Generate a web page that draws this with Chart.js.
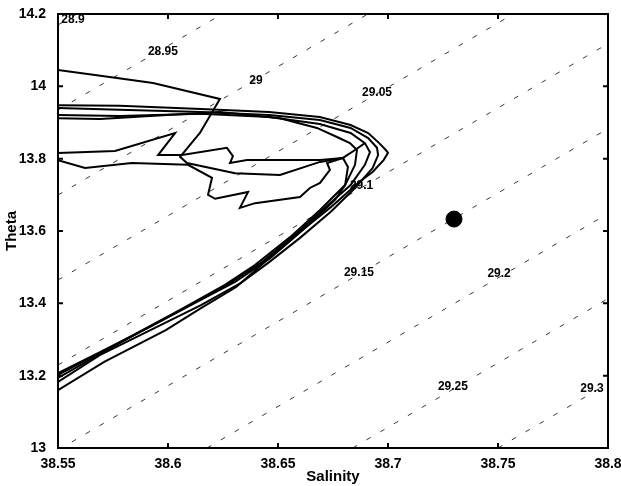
<!DOCTYPE html>
<html>
<head>
<meta charset="utf-8">
<script src="https://cdn.jsdelivr.net/npm/chart.js@4/dist/chart.umd.min.js"></script>
<style>
  html, body { margin: 0; padding: 0; background: #fff; }
</style>
</head>
<body>
<canvas id="tsPlot" width="621" height="486"></canvas>
<script>
// axis ticks
const xTicks = [38.55, 38.6, 38.65, 38.7, 38.75, 38.8];
const yTicks = [13, 13.2, 13.4, 13.6, 13.8, 14, 14.2];

// sigma-theta contours, end points
const contourLevels = ["28.9", "28.95", "29", "29.05", "29.1", "29.15", "29.2", "29.25", "29.3"];
const contourS0 = [38.55, 38.55, 38.55, 38.55, 38.55, 38.55, 38.6177, 38.6839, 38.75];
const contourT0 = [14.1696, 13.9346, 13.6995, 13.4645, 13.2295, 12.9945, 13.0, 13.0, 13.0];
const contourS1 = [38.5586, 38.6247, 38.6909, 38.757, 38.8, 38.8, 38.8, 38.8, 38.8];
const contourT1 = [14.2, 14.2, 14.2, 14.2, 14.118, 13.883, 13.648, 13.413, 13.178];
const contourLabelS = [38.5568, 38.5977, 38.64, 38.695, 38.688, 38.6868, 38.7505, 38.7295, 38.7927];
const contourLabelT = [14.1834, 14.095, 14.015, 13.982, 13.724, 13.484, 13.481, 13.169, 13.163];

// T-S traces
const traceA_S = [38.550, 38.578, 38.615, 38.646, 38.669, 38.683, 38.691, 38.696, 38.699, 38.700, 38.698, 38.693, 38.687, 38.674, 38.660, 38.644, 38.631, 38.615, 38.599, 38.571, 38.550];
const traceA_T = [13.948, 13.946, 13.937, 13.929, 13.915, 13.893, 13.871, 13.843, 13.824, 13.816, 13.796, 13.763, 13.736, 13.666, 13.597, 13.514, 13.445, 13.387, 13.326, 13.238, 13.160];

const traceB_S = [38.550, 38.578, 38.615, 38.646, 38.669, 38.683, 38.691, 38.695, 38.6955, 38.693, 38.685, 38.674, 38.660, 38.646, 38.633, 38.615, 38.592, 38.569, 38.550];
const traceB_T = [13.940, 13.935, 13.929, 13.921, 13.907, 13.885, 13.857, 13.830, 13.810, 13.774, 13.719, 13.653, 13.581, 13.514, 13.456, 13.395, 13.326, 13.257, 13.183];

const traceC_S = [38.550, 38.578, 38.615, 38.646, 38.669, 38.683, 38.6895, 38.6918, 38.6895, 38.683, 38.6714, 38.6577, 38.6427, 38.6282, 38.610, 38.5873, 38.5668, 38.550];
const traceC_T = [13.921, 13.918, 13.924, 13.915, 13.896, 13.871, 13.843, 13.818, 13.783, 13.727, 13.664, 13.589, 13.514, 13.456, 13.395, 13.321, 13.252, 13.194];

const traceD_S = [38.550, 38.5691, 38.5918, 38.6236, 38.6509, 38.6677, 38.6768, 38.6827, 38.6859, 38.685, 38.6805, 38.6691, 38.6555, 38.6395, 38.6259, 38.6055, 38.5827, 38.5646, 38.550];
const traceD_T = [13.912, 13.910, 13.918, 13.929, 13.912, 13.885, 13.860, 13.843, 13.824, 13.783, 13.727, 13.658, 13.583, 13.506, 13.451, 13.382, 13.307, 13.249, 13.202];

const traceE_S = [38.550, 38.5768, 38.5932, 38.6236, 38.6145, 38.6055, 38.6086, 38.6305, 38.6509, 38.6691, 38.6795, 38.6818, 38.6805, 38.6759, 38.6623, 38.6464, 38.6305, 38.6123, 38.5918, 38.5691, 38.550];
const traceE_T = [14.045, 14.023, 14.009, 13.965, 13.871, 13.805, 13.788, 13.760, 13.755, 13.791, 13.802, 13.777, 13.727, 13.686, 13.608, 13.525, 13.459, 13.401, 13.335, 13.265, 13.207];

const traceF_S = [38.550, 38.5759, 38.6032, 38.5955, 38.6064, 38.6268, 38.6295, 38.6282, 38.6359, 38.6509, 38.6691, 38.6795, 38.685, 38.6895];
const traceF_T = [13.816, 13.821, 13.871, 13.810, 13.810, 13.830, 13.807, 13.788, 13.796, 13.796, 13.796, 13.802, 13.824, 13.843];

const traceG_S = [38.550, 38.5623, 38.5836, 38.6091, 38.620, 38.6182, 38.6214, 38.6364, 38.6327, 38.6396, 38.660, 38.6645, 38.6691, 38.6736, 38.6723, 38.6795];
const traceG_T = [13.796, 13.774, 13.788, 13.783, 13.747, 13.700, 13.689, 13.708, 13.664, 13.677, 13.694, 13.719, 13.733, 13.769, 13.788, 13.802];

// station point
const stationS = [38.73];
const stationT = [13.633];

const fontFam = '"Liberation Sans", Arial, Helvetica, sans-serif';

function toPoints(sArr, tArr) {
    return sArr.map((s, i) => ({ x: s, y: tArr[i] }));
}

const traces = [
    [traceA_S, traceA_T], [traceB_S, traceB_T], [traceC_S, traceC_T], [traceD_S, traceD_T],
    [traceE_S, traceE_T], [traceF_S, traceF_T], [traceG_S, traceG_T]
];

const datasets = [];
datasets.push({
    data: toPoints(stationS, stationT),
    pointRadius: 8,
    pointBackgroundColor: '#000',
    pointBorderColor: '#000',
    showLine: false,
});
traces.forEach(tr => {
    datasets.push({
        data: toPoints(tr[0], tr[1]),
        showLine: true,
        borderColor: '#000',
        borderWidth: 2,
        pointRadius: 0,
        tension: 0,
    });
});
contourLevels.forEach((lev, i) => {
    datasets.push({
        data: [{ x: contourS0[i], y: contourT0[i] }, { x: contourS1[i], y: contourT1[i] }],
        showLine: true,
        borderColor: '#222',
        borderWidth: 0.9,
        borderDash: [5, 11],
        pointRadius: 0,
    });
});

// frame, inward ticks and contour labels
const frameTicks = {
    id: 'frameTicks',
    afterDatasetsDraw(chart) {
        const ctx = chart.ctx;
        const { left, right, top, bottom } = chart.chartArea;
        const xs = chart.scales.x, ys = chart.scales.y;
        ctx.save();
        ctx.font = 'bold 12px ' + fontFam;
        ctx.fillStyle = '#000';
        ctx.textAlign = 'center';
        ctx.textBaseline = 'middle';
        contourLevels.forEach((lev, i) => {
            ctx.fillText(lev, xs.getPixelForValue(contourLabelS[i]), ys.getPixelForValue(contourLabelT[i]));
        });
        ctx.strokeStyle = '#000';
        ctx.lineWidth = 2;
        ctx.strokeRect(left, top, right - left, bottom - top);
        ctx.beginPath();
        xTicks.forEach(v => {
            const px = xs.getPixelForValue(v);
            ctx.moveTo(px, bottom); ctx.lineTo(px, bottom - 5);
            ctx.moveTo(px, top); ctx.lineTo(px, top + 5);
        });
        yTicks.forEach(v => {
            const py = ys.getPixelForValue(v);
            ctx.moveTo(left, py); ctx.lineTo(left + 5, py);
            ctx.moveTo(right, py); ctx.lineTo(right - 5, py);
        });
        ctx.stroke();
        ctx.restore();
    }
};

new Chart(document.getElementById('tsPlot'), {
    type: 'scatter',
    data: { datasets: datasets },
    options: {
        responsive: false,
        animation: false,
        layout: { padding: { left: 0, right: 13, top: 14, bottom: 0 } },
        plugins: { legend: { display: false }, tooltip: { enabled: false } },
        scales: {
            x: {
                type: 'linear',
                min: 38.55,
                max: 38.8,
                grid: { display: false },
                border: { display: false },
                afterBuildTicks: s => { s.ticks = xTicks.map(v => ({ value: v })); },
                afterFit: s => { s.height = 38; s.paddingLeft = 0; s.paddingRight = 0; },
                ticks: {
                    color: '#000',
                    padding: 0,
                    maxRotation: 0,
                    font: { family: fontFam, size: 14, weight: 'bold' },
                    callback: v => String(+v.toFixed(2)),
                },
                title: {
                    display: true,
                    text: 'Salinity',
                    color: '#000',
                    padding: { top: 0, bottom: 0 },
                    font: { family: fontFam, size: 15, weight: 'bold' },
                },
            },
            y: {
                type: 'linear',
                min: 13,
                max: 14.2,
                grid: { display: false },
                border: { display: false },
                afterBuildTicks: s => { s.ticks = yTicks.map(v => ({ value: v })); },
                afterFit: s => { s.width = 58; s.paddingTop = 0; s.paddingBottom = 0; },
                ticks: {
                    color: '#000',
                    padding: 4,
                    font: { family: fontFam, size: 14, weight: 'bold' },
                    callback: v => String(+v.toFixed(1)),
                },
                title: {
                    display: true,
                    text: 'Theta',
                    color: '#000',
                    padding: { top: 3, bottom: 0 },
                    font: { family: fontFam, size: 15, weight: 'bold' },
                },
            },
        },
    },
    plugins: [frameTicks],
});
</script>
</body>
</html>
